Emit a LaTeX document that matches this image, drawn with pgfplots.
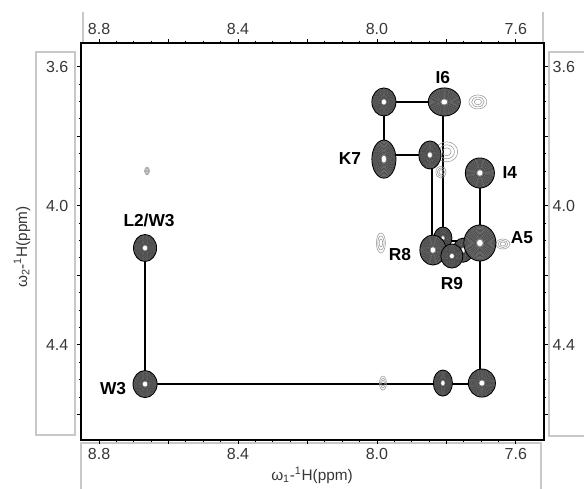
\documentclass[border=0pt]{standalone}
\usepackage{fontspec}
\setmainfont{Liberation Sans}
\usepackage{pgfplots}
\pgfplotsset{compat=1.18}

\definecolor{boxgray}{RGB}{200,200,200}
\definecolor{ticktext}{RGB}{55,55,55}
\definecolor{pkfill}{RGB}{120,120,120}
\definecolor{wkline}{RGB}{150,150,150}

% peak half widths in px (1px = 0.75pt)
\def\pkrx{5}\def\pkry{5}
\pgfdeclareplotmark{pk}{%
  \pgfsetfillcolor{pkfill}%
  \pgfpathellipse{\pgfpointorigin}{\pgfpoint{\pkrx*0.75pt}{0pt}}{\pgfpoint{0pt}{\pkry*0.75pt}}%
  \pgfusepathqfill
  \pgfsetstrokecolor{black}%
  \pgfsetlinewidth{0.7pt}%
  \pgfpathellipse{\pgfpointorigin}{\pgfpoint{\pkrx*0.75pt}{0pt}}{\pgfpoint{0pt}{\pkry*0.75pt}}%
  \pgfusepathqstroke
  \pgfsetstrokecolor{black!80}%
  \pgfsetlinewidth{0.25pt}%
  \foreach \f in {0.92,0.85,0.78,0.71,0.64,0.57,0.5,0.43,0.36,0.3}{%
    \pgfpathellipse{\pgfpointorigin}{\pgfpoint{\f*\pkrx*0.75pt}{0pt}}{\pgfpoint{0pt}{\f*\pkry*0.75pt}}%
    \pgfusepathqstroke}%
  \pgfsetfillcolor{white}%
  \pgfpathellipse{\pgfpointorigin}{\pgfpoint{0.18*\pkrx*0.75pt}{0pt}}{\pgfpoint{0pt}{0.18*\pkry*0.75pt}}%
  \pgfusepathqfill
}
\pgfdeclareplotmark{wk}{%
  \pgfsetstrokecolor{wkline}%
  \pgfsetlinewidth{0.4pt}%
  \foreach \f in {1,0.7,0.4}{%
    \pgfpathellipse{\pgfpointorigin}{\pgfpoint{\f*\pkrx*0.75pt}{0pt}}{\pgfpoint{0pt}{\f*\pkry*0.75pt}}%
    \pgfusepathqstroke}%
}
\newcommand\peak[5]{\addplot[only marks, mark=#1, mark options={/utils/exec={\def\pkrx{#4}\def\pkry{#5}}}] coordinates {(#2,#3)};}

\pgfplotsset{
  nmr/.style={
    at={(60.75pt,-330pt)}, anchor=south west,
    scale only axis, width=347.25pt, height=297.75pt,
    x dir=reverse, y dir=reverse,
    xmin=7.519, xmax=8.852, ymin=3.532, ymax=4.674,
    xtick={7.6,7.8,8.0,8.2,8.4,8.6,8.8},
    xticklabels={7.6,,8.0,,8.4,,8.8},
    ytick={3.6,3.8,4.0,4.2,4.4,4.6},
    yticklabels={3.6,,4.0,,4.4,},
    minor tick num=3,
    tick align=outside,
    major tick length=3pt, minor tick length=1.6pt,
    every tick/.style={black, line width=0.6pt},
    axis line style={line width=1pt},
    tick label style={font=\fontsize{12}{14}\selectfont, text=ticktext},
    /pgf/number format/assume math mode=true,
  }
}

\begin{document}
\begin{tikzpicture}
\useasboundingbox (0,0) rectangle (438pt,-366pt);
\begin{scope}[x=0.75pt,y=-0.75pt]
  \draw[boxgray, line width=0.8pt] (83,12) -- (83,42) (543,12) -- (543,42);
  \draw[boxgray, line width=0.8pt] (36,52) rectangle (75,435);
  \draw[boxgray, line width=0.8pt] (549,52) rectangle (600,436);
  \draw[boxgray, line width=0.8pt] (81,443) rectangle (541,500);
  \node[rotate=90, font=\fontsize{11.5}{13}\selectfont, text=ticktext] at (22,247) {ω\textsubscript{2}-\textsuperscript{1}H(ppm)};
  \node[font=\fontsize{11.5}{13}\selectfont, text=ticktext] at (312,475) {ω\textsubscript{1}-\textsuperscript{1}H(ppm)};
\end{scope}

\begin{axis}[nmr,
  yticklabel style={xshift=-3pt}]
  % weak cross peaks
  \peak{wk}{7.7093}{3.7016}{9}{7}
  \peak{wk}{7.9885}{4.1073}{4.5}{10}
  \peak{wk}{8.6619}{3.9001}{2.5}{4}
  \peak{wk}{7.9827}{4.5102}{3.5}{7}
  \peak{wk}{7.7990}{3.8450}{11}{10}
  \peak{wk}{7.8158}{3.9033}{5}{6}
  \peak{wk}{7.6374}{4.1102}{7}{5}
  % strong cross peaks
  \peak{pk}{8.6676}{4.1217}{11.5}{13.5}
  \peak{pk}{8.6676}{4.5131}{12}{13.5}
  \peak{pk}{7.9799}{3.7016}{12}{14}
  \peak{pk}{7.8060}{3.7016}{16}{14}
  \peak{pk}{7.9799}{3.8660}{12}{19}
  \peak{pk}{7.8475}{3.8541}{11}{14}
  \peak{pk}{7.7036}{3.9059}{14.5}{15}
  \peak{pk}{7.8101}{4.0930}{9}{11}
  \peak{pk}{7.7520}{4.1280}{10}{12}
  \peak{pk}{7.8388}{4.1275}{13}{15}
  \peak{pk}{7.7842}{4.1448}{11}{12}
  \peak{pk}{7.7036}{4.1073}{16}{18}
  \peak{pk}{7.8101}{4.5102}{9.5}{13}
  \peak{pk}{7.6978}{4.5102}{13.5}{14}
  % sequential connectivity
  \addplot[black, line width=1.1pt, no marks] coordinates {(8.6676,4.1217) (8.6676,4.5131) (7.7036,4.5131)};
  \addplot[black, line width=1.9pt, no marks] coordinates {(7.7036,4.5131) (7.7036,3.9088)};
  \addplot[black, line width=1.1pt, no marks] coordinates {(7.7957,4.1332) (7.8417,4.1332) (7.8417,3.8541) (7.9799,3.8541) (7.9799,3.7016) (7.8101,3.7016) (7.8101,4.1016) (7.7036,4.1016)};
  % residue labels
  \begin{scope}[font=\bfseries\fontsize{13}{15}\selectfont]
  \node at (axis cs:7.8101,3.6325) {I6};
  \node at (axis cs:8.0777,3.8656) {K7};
  \node at (axis cs:7.6172,3.9059) {I4};
  \node at (axis cs:7.5827,4.0929) {A5};
  \node at (axis cs:7.9338,4.1419) {R8};
  \node at (axis cs:7.7842,4.2225) {R9};
  \node at (axis cs:8.6561,4.0411) {L2/W3};
  \node at (axis cs:8.7597,4.5246) {W3};
  \end{scope}
\end{axis}

\begin{axis}[nmr, xticklabel pos=upper, yticklabel pos=right]
\end{axis}
\end{tikzpicture}
\end{document}
